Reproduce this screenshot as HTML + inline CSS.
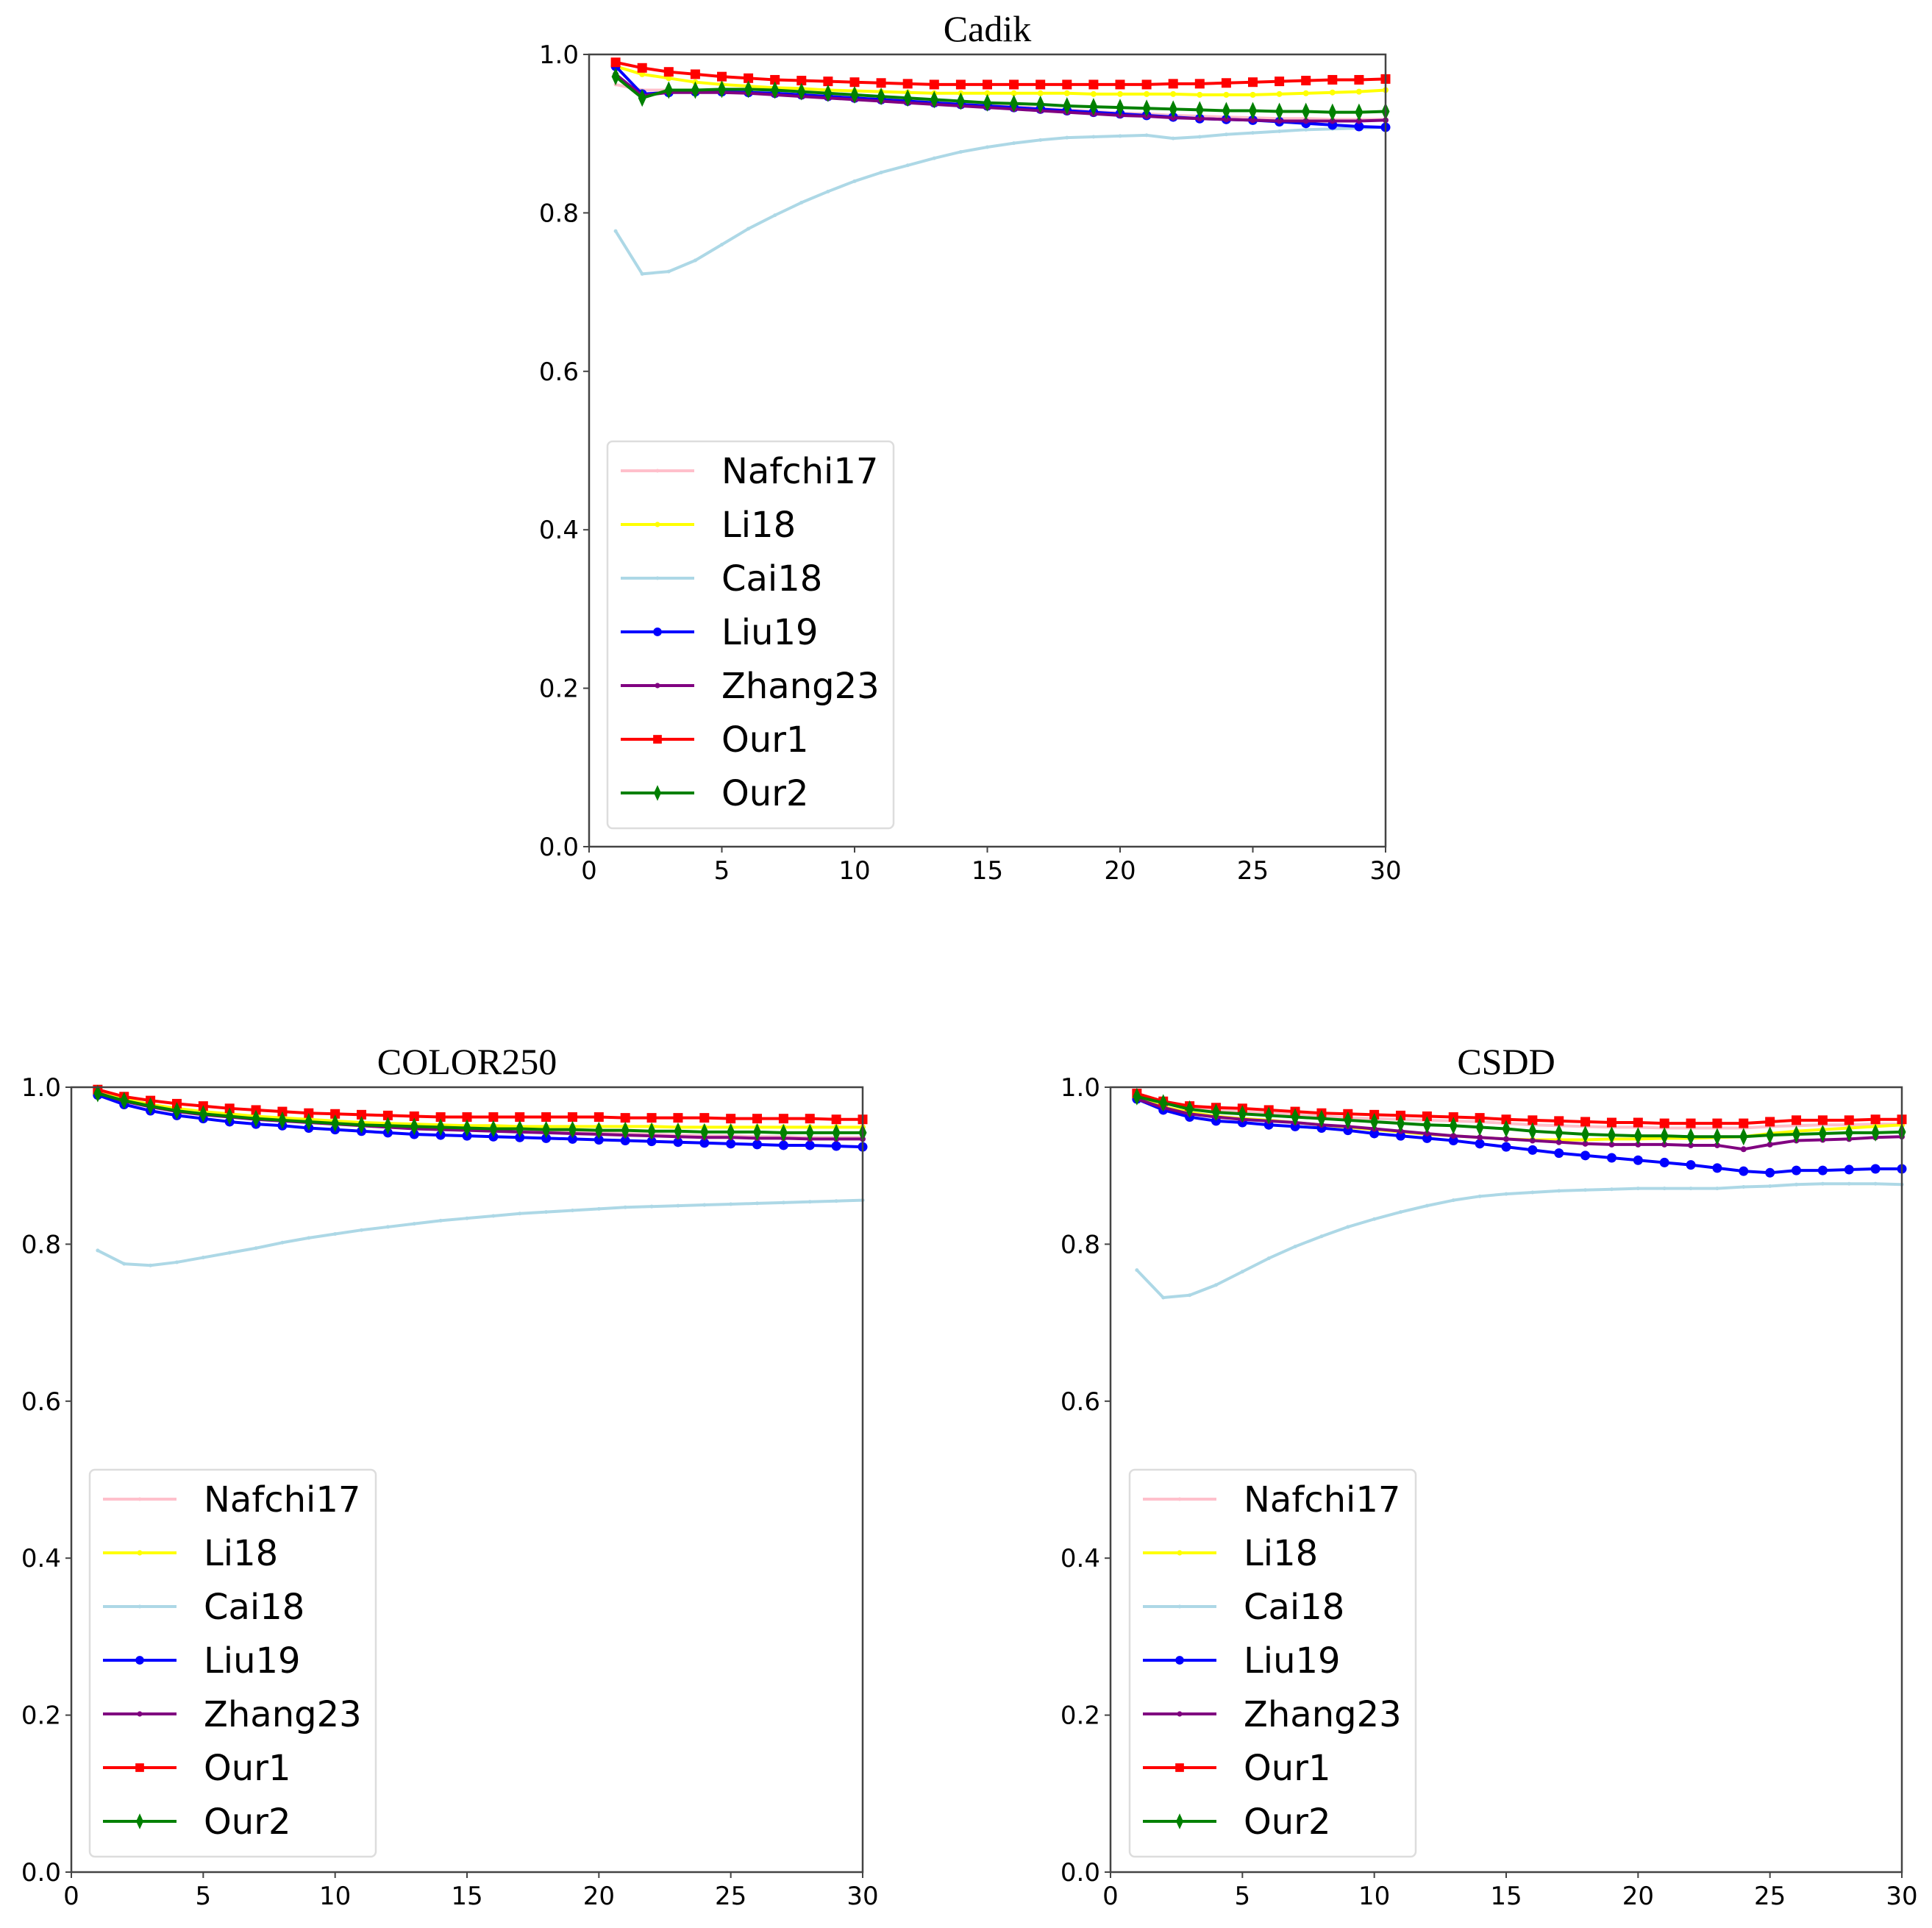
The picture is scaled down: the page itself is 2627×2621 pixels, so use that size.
<!DOCTYPE html>
<html><head><meta charset="utf-8"><style>
html,body{margin:0;padding:0;background:#fff;}
svg{display:block;}
</style></head><body>
<svg id="fig" width="2627" height="2621" viewBox="0 0 2627 2621" xmlns="http://www.w3.org/2000/svg"></svg>
<script>
const xs = [1,2,3,4,5,6,7,8,9,10,11,12,13,14,15,16,17,18,19,20,21,22,23,24,25,26,27,28,29,30];
const seriesNames = ["Nafchi17","Li18","Cai18","Liu19","Zhang23","Our1","Our2"];
const xTicks = [0,5,10,15,20,25,30];
const yTicks = [0.0,0.2,0.4,0.6,0.8,1.0];
const yTickLabels = ["0.0","0.2","0.4","0.6","0.8","1.0"];
const panelTitles = ["Cadik","COLOR250","CSDD"];

const cadikNafchi = [0.962,0.955,0.955,0.954,0.953,0.952,0.951,0.949,0.948,0.946,0.944,0.942,0.940,0.938,0.936,0.934,0.932,0.930,0.928,0.926,0.925,0.923,0.922,0.921,0.920,0.919,0.919,0.918,0.918,0.918];
const cadikLi = [0.985,0.975,0.970,0.965,0.962,0.960,0.958,0.957,0.955,0.954,0.953,0.952,0.951,0.951,0.951,0.951,0.951,0.951,0.950,0.950,0.950,0.950,0.949,0.949,0.949,0.950,0.951,0.952,0.953,0.955];
const cadikCai = [0.777,0.723,0.726,0.740,0.760,0.780,0.797,0.813,0.827,0.840,0.851,0.860,0.869,0.877,0.883,0.888,0.892,0.895,0.896,0.897,0.898,0.894,0.896,0.899,0.901,0.903,0.905,0.906,0.907,0.908];
const cadikLiu = [0.985,0.950,0.952,0.953,0.953,0.952,0.951,0.949,0.947,0.945,0.943,0.941,0.939,0.937,0.935,0.933,0.931,0.929,0.927,0.925,0.923,0.921,0.919,0.918,0.917,0.915,0.913,0.911,0.909,0.908];
const cadikZhang = [0.975,0.948,0.952,0.952,0.952,0.951,0.949,0.947,0.945,0.943,0.941,0.939,0.937,0.935,0.933,0.931,0.929,0.927,0.925,0.923,0.922,0.920,0.919,0.918,0.917,0.916,0.916,0.916,0.916,0.917];
const cadikOur1 = [0.990,0.983,0.978,0.975,0.972,0.970,0.968,0.967,0.966,0.965,0.964,0.963,0.962,0.962,0.962,0.962,0.962,0.962,0.962,0.962,0.962,0.963,0.963,0.964,0.965,0.966,0.967,0.968,0.968,0.969];
const cadikOur2 = [0.972,0.945,0.955,0.955,0.956,0.956,0.955,0.953,0.951,0.949,0.947,0.945,0.943,0.941,0.939,0.938,0.937,0.935,0.934,0.933,0.932,0.931,0.930,0.929,0.929,0.928,0.928,0.927,0.927,0.928];

const colorNafchi = [0.994,0.984,0.977,0.971,0.967,0.964,0.961,0.959,0.957,0.955,0.953,0.951,0.949,0.948,0.947,0.946,0.945,0.944,0.943,0.942,0.941,0.940,0.939,0.938,0.938,0.937,0.937,0.936,0.936,0.936];
const colorLi = [0.995,0.985,0.978,0.973,0.969,0.966,0.963,0.961,0.959,0.957,0.955,0.954,0.953,0.952,0.951,0.951,0.950,0.950,0.950,0.950,0.950,0.950,0.949,0.949,0.949,0.949,0.949,0.949,0.949,0.949];
const colorCai = [0.792,0.775,0.773,0.777,0.783,0.789,0.795,0.802,0.808,0.813,0.818,0.822,0.826,0.830,0.833,0.836,0.839,0.841,0.843,0.845,0.847,0.848,0.849,0.850,0.851,0.852,0.853,0.854,0.855,0.856];
const colorLiu = [0.990,0.978,0.970,0.964,0.960,0.956,0.953,0.951,0.948,0.946,0.944,0.942,0.940,0.939,0.938,0.937,0.936,0.935,0.934,0.933,0.932,0.931,0.930,0.929,0.928,0.927,0.926,0.926,0.925,0.924];
const colorZhang = [0.993,0.982,0.975,0.969,0.965,0.962,0.959,0.957,0.955,0.953,0.951,0.949,0.947,0.946,0.945,0.944,0.943,0.942,0.941,0.940,0.939,0.938,0.937,0.936,0.936,0.935,0.935,0.934,0.934,0.934];
const colorOur1 = [0.997,0.988,0.983,0.979,0.976,0.973,0.971,0.969,0.967,0.966,0.965,0.964,0.963,0.962,0.962,0.962,0.962,0.962,0.962,0.962,0.961,0.961,0.961,0.961,0.960,0.960,0.960,0.960,0.959,0.959];
const colorOur2 = [0.992,0.983,0.976,0.970,0.966,0.963,0.960,0.958,0.956,0.954,0.952,0.951,0.950,0.949,0.948,0.947,0.947,0.946,0.946,0.945,0.945,0.944,0.944,0.943,0.943,0.943,0.942,0.942,0.942,0.942];

const csddNafchi = [0.990,0.980,0.974,0.971,0.969,0.967,0.965,0.963,0.961,0.960,0.959,0.958,0.957,0.956,0.954,0.952,0.951,0.950,0.949,0.949,0.948,0.948,0.948,0.948,0.950,0.951,0.952,0.952,0.953,0.953];
const csddLi = [0.987,0.975,0.968,0.963,0.960,0.958,0.955,0.952,0.949,0.946,0.943,0.940,0.938,0.936,0.934,0.933,0.933,0.933,0.934,0.934,0.935,0.935,0.936,0.937,0.941,0.944,0.946,0.948,0.950,0.952];
const csddCai = [0.767,0.732,0.735,0.748,0.765,0.782,0.797,0.810,0.822,0.832,0.841,0.849,0.856,0.861,0.864,0.866,0.868,0.869,0.870,0.871,0.871,0.871,0.871,0.873,0.874,0.876,0.877,0.877,0.877,0.876];
const csddLiu = [0.985,0.971,0.962,0.957,0.955,0.952,0.950,0.948,0.945,0.941,0.938,0.935,0.932,0.928,0.924,0.920,0.916,0.913,0.910,0.907,0.904,0.901,0.897,0.893,0.891,0.894,0.894,0.895,0.896,0.896];
const csddZhang = [0.985,0.974,0.966,0.962,0.959,0.957,0.955,0.952,0.950,0.947,0.944,0.941,0.938,0.936,0.934,0.932,0.930,0.928,0.927,0.927,0.927,0.926,0.926,0.921,0.927,0.932,0.933,0.934,0.936,0.937];
const csddOur1 = [0.992,0.982,0.976,0.974,0.973,0.971,0.969,0.967,0.966,0.965,0.964,0.963,0.962,0.961,0.959,0.958,0.957,0.956,0.955,0.955,0.954,0.954,0.954,0.954,0.956,0.958,0.958,0.958,0.959,0.959];
const csddOur2 = [0.988,0.980,0.972,0.968,0.966,0.964,0.962,0.960,0.958,0.956,0.954,0.952,0.951,0.949,0.947,0.944,0.942,0.940,0.939,0.938,0.938,0.937,0.937,0.937,0.939,0.940,0.941,0.942,0.942,0.943];

const panelData = [
  [cadikNafchi,cadikLi,cadikCai,cadikLiu,cadikZhang,cadikOur1,cadikOur2],
  [colorNafchi,colorLi,colorCai,colorLiu,colorZhang,colorOur1,colorOur2],
  [csddNafchi,csddLi,csddCai,csddLiu,csddZhang,csddOur1,csddOur2]
];

const styles = [
  {c:"#ffc0cb",m:"plus",w:4},
  {c:"#ffff00",m:"star",w:4},
  {c:"#add8e6",m:"plus",w:4},
  {c:"#0000ff",m:"circle",w:4},
  {c:"#800080",m:"star",w:4},
  {c:"#ff0000",m:"square",w:4},
  {c:"#008000",m:"diamond",w:4}
];
const panels = [
  {l:801,r:1884,t:74,b:1151,leg:{x:826,y:600}},
  {l:97,r:1173,t:1478,b:2545,leg:{x:122,y:1998}},
  {l:1510,r:2586,t:1478,b:2545,leg:{x:1536,y:1998}}
];
const NS="http://www.w3.org/2000/svg";
const svg=document.getElementById('fig');
function mk(tag,attrs,parent){const e=document.createElementNS(NS,tag);for(const k in attrs)e.setAttribute(k,attrs[k]);(parent||svg).appendChild(e);return e;}
function marker(g,type,x,y,c,s){
  let e;
  if(type==="square"){e=mk('rect',{x:x-6.5*s,y:y-6.5*s,width:13*s,height:13*s,fill:c},g);}
  else if(type==="circle"){e=mk('circle',{cx:x,cy:y,r:6.5*s,fill:c},g);}
  else if(type==="diamond"){e=mk('polygon',{points:`${x},${y-12*s} ${x+5.5*s},${y} ${x},${y+12*s} ${x-5.5*s},${y}`,fill:c},g);}
  else if(type==="star"){e=mk('circle',{cx:x,cy:y,r:4*s,fill:c},g);}
  else {e=mk('circle',{cx:x,cy:y,r:2.5,fill:c},g);}
  return e;
}
panels.forEach((p,pi)=>{
  const g=mk('g',{});
  
  
  const X=v=>p.l+(v-0)/(30-0)*(p.r-p.l);
  const Y=v=>p.b-(v-0)/(1-0)*(p.b-p.t);
  const title=mk('text',{x:(p.l+p.r)/2,y:p.t-18,'text-anchor':'middle','font-family':'"Liberation Serif",serif','font-size':50,fill:'#000'},g);
  title.textContent=panelTitles[pi];
  
  
  const sg=mk('g',{},g);
  panelData[pi].forEach((vals,si)=>{
    const st=styles[si];
    const pts=vals.map((v,i)=>X(xs[i])+','+Y(v)).join(' ');
    const line=mk('polyline',{points:pts,fill:'none',stroke:st.c,'stroke-width':st.w,'stroke-linejoin':'round'},sg);
    
    
    vals.forEach((v,i)=>{const m=marker(sg,st.m,X(xs[i]),Y(v),st.c,1);
      
      });
  });
  const fr=mk('rect',{x:p.l,y:p.t,width:p.r-p.l,height:p.b-p.t,fill:'none',stroke:'#444','stroke-width':2.5},g);
  
  
  xTicks.forEach(t=>{
    mk('line',{x1:X(t),x2:X(t),y1:p.b,y2:p.b+8,stroke:'#444','stroke-width':2},g);
    const tx=mk('text',{x:X(t),y:p.b+44,'text-anchor':'middle','font-family':'"DejaVu Sans",sans-serif','font-size':34,fill:'#000'},g);
    tx.textContent=t;
    
    
  });
  yTicks.forEach((t,i)=>{
    mk('line',{x1:p.l-8,x2:p.l,y1:Y(t),y2:Y(t),stroke:'#444','stroke-width':2},g);
    const ty=mk('text',{x:p.l-14,y:Y(t)+12,'text-anchor':'end','font-family':'"DejaVu Sans",sans-serif','font-size':34,fill:'#000'},g);
    ty.textContent=yTickLabels[i];
    
    
  });
  const lg=mk('g',{},g);
  
  
  mk('rect',{x:p.leg.x,y:p.leg.y,width:389,height:526,rx:7,fill:'#fff',stroke:'#ddd','stroke-width':2.5},lg);
  seriesNames.forEach((n,si)=>{
    const yy=p.leg.y+40+si*73;
    const st=styles[si];
    const e=mk('g',{},lg);
    
    
    mk('line',{x1:p.leg.x+18,x2:p.leg.x+118,y1:yy,y2:yy,stroke:st.c,'stroke-width':st.w},e);
    marker(e,st.m,p.leg.x+68,yy,st.c,0.9);
    const t=mk('text',{x:p.leg.x+155,y:yy+17,'font-family':'"DejaVu Sans",sans-serif','font-size':48,fill:'#000'},e);
    t.textContent=n;
  });
});
</script>
</body></html>
